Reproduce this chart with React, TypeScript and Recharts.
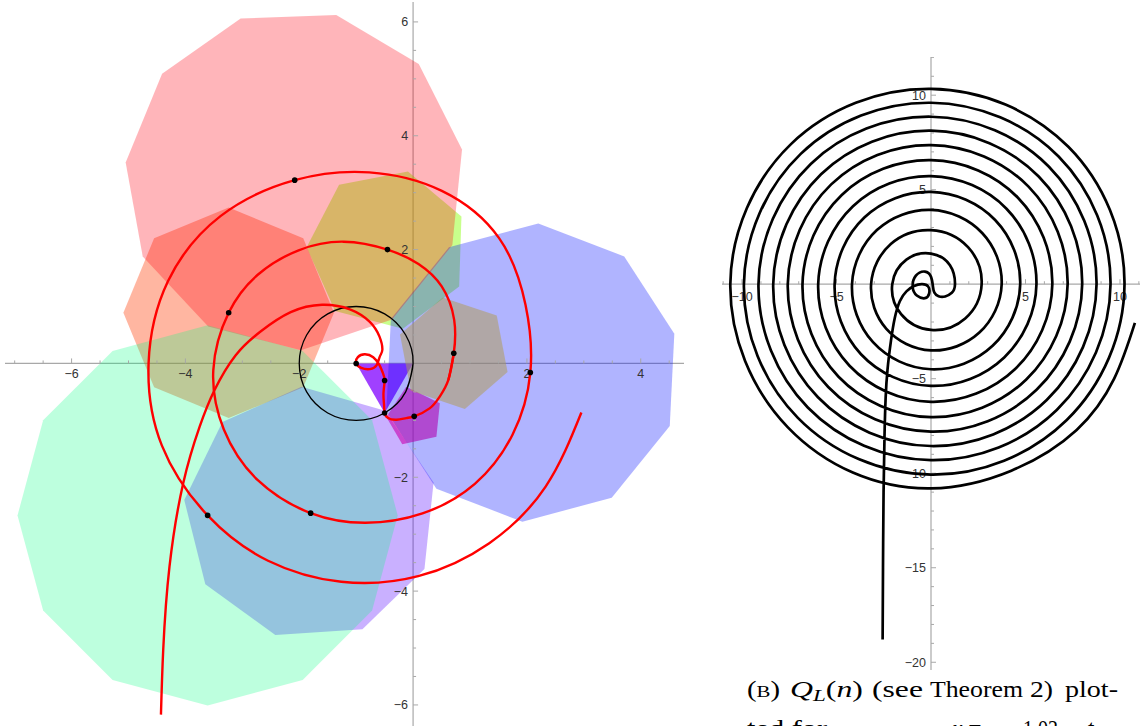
import React from 'react';
import { ScatterChart, Scatter, XAxis, YAxis, ReferenceLine } from 'recharts';

type Pt = { x: number; y: number; label?: string };
const toPts = (a: number[][]): Pt[] => a.map(([x, y]) => ({ x, y }));

// ---------- left panel: polygons around the marked points (vertices)
const triangle = [[-1, 0], [0, 0], [-0.5, -0.87]];
const pentagon = [[-0.12, -0.41], [0.47, -0.7], [0.41, -1.29], [-0.19, -1.42], [-0.47, -0.94]];
const hexagon = [[0.52, 1.16], [1.47, 0.84], [1.66, -0.15], [0.91, -0.8], [-0.04, -0.48], [-0.23, 0.51]];
const heptagon = [[0.85, 2.58], [-0.09, 3.37], [-1.3, 3.14], [-1.87, 2.04], [-1.37, 0.92], [-0.18, 0.61], [0.81, 1.35]];
const octagon = [[-1.39, 0.89], [-1.93, 2.2], [-3.24, 2.74], [-4.55, 2.2], [-5.09, 0.89], [-4.55, -0.42], [-3.24, -0.96], [-1.93, -0.42]];
const nonagon = [[-4.02, -2.4], [-3.35, -1.03], [-1.96, -0.41], [-0.49, -0.83], [0.36, -2.09], [0.2, -3.61], [-0.89, -4.67], [-2.42, -4.77], [-3.65, -3.88]];
const decagon = [[2.2, 2.46], [3.71, 1.88], [4.59, 0.52], [4.51, -1.1], [3.49, -2.36], [1.92, -2.78], [0.41, -2.2], [-0.47, -0.84], [-0.39, 0.78], [0.63, 2.04]];
const hendecagon = [[-1.35, 6.12], [-3.03, 6.06], [-4.41, 5.09], [-5.05, 3.53], [-4.75, 1.88], [-3.6, 0.65], [-1.97, 0.23], [-0.37, 0.77], [0.69, 2.08], [0.86, 3.76], [0.1, 5.26]];
const dodecagon = [[-0.27, -2.67], [-0.72, -1.0], [-1.94, 0.22], [-3.61, 0.67], [-5.28, 0.22], [-6.5, -1.0], [-6.95, -2.67], [-6.5, -4.34], [-5.28, -5.56], [-3.61, -6.01], [-1.94, -5.56], [-0.72, -4.34]];

const polygons = [triangle, pentagon, hexagon, heptagon, octagon, nonagon, decagon, hendecagon, dodecagon];
const polyColors = ['#a040ff', '#ff008e', '#ffdc00', '#85ff00', '#ff3800', '#5000ff', '#000dff', '#ff0011', '#00ff80'];
const polyOpacity = [1, 0.6, 0.5, 0.45, 0.37, 0.31, 0.31, 0.29, 0.26];

const unitCircle = [[-0.13, -0.5], [0, 0], [-0.13, 0.5], [-0.5, 0.87], [-1, 1], [-1.5, 0.87], [-1.87, 0.5], [-2, 0], [-1.87, -0.5], [-1.5, -0.87], [-1, -1], [-0.5, -0.87], [-0.13, -0.5], [0, 0]];

// tail and the small loop, up to the fifth marked point
const redCore = [
  [-4.43, -6.17], [-4.39, -5.03], [-4.28, -3.57], [-4.04, -2.11], [-3.75, -1.11], [-3.49, -0.47], [-3.12, 0.14],
  [-2.68, 0.56], [-2.15, 0.9], [-1.6, 1.03], [-1.11, 0.95], [-0.76, 0.73], [-0.59, 0.47], [-0.54, 0.24],
  [-0.585, 0.12], [-0.64, -0.03], [-0.76, -0.1], [-0.91, -0.08], [-1, 0], [-0.97, 0.11], [-0.85, 0.16],
  [-0.7, 0.11], [-0.59, -0.03], [-0.53, -0.17], [-0.5, -0.3], [-0.52, -0.52], [-0.51, -0.73], [-0.5, -0.87],
  [-0.44, -0.96], [-0.29, -0.99], [-0.12, -0.96], [0.02, -0.93], [0.29, -0.79], [0.47, -0.58], [0.62, -0.29],
  [0.715, 0.18],
];
// the two outer turns
const redTurns = [
  [0.722, 0.765], [0.503, 1.353], [0.095, 1.747], [-0.45, 2.0], [-1.22, 2.139], [-2.011, 1.988], [-2.724, 1.562],
  [-3.24, 0.89], [-3.51, -0.117], [-3.325, -1.161], [-2.728, -2.052], [-1.8, -2.63], [-0.835, -2.8], [0.165, -2.635],
  [1.085, -2.115], [1.749, -1.248], [2.06, -0.16], [1.976, 1.026], [1.511, 2.201], [0.505, 3.032], [-0.77, 3.357],
  [-2.08, 3.22], [-3.384, 2.588], [-4.307, 1.443], [-4.647, 0.008], [-4.413, -1.444], [-3.61, -2.67], [-2.548, -3.466],
  [-1.262, -3.836], [0.09, -3.738], [1.339, -3.158], [2.329, -2.163], [2.957, -0.862],
];

const markedPoints = [[-1, 0], [-0.5, -0.3], [-0.5, -0.87], [0.02, -0.93], [0.715, 0.18], [-0.45, 2.0], [-3.24, 0.89], [-1.8, -2.63], [2.06, -0.16], [-2.08, 3.22], [-3.61, -2.67]];

const leftXTicks = [-7, -6.5, -6, -5.5, -5, -4.5, -4, -3.5, -3, -2.5, -2, -1.5, -1, -0.5, 0.5, 1, 1.5, 2, 2.5, 3, 3.5, 4, 4.5];
const leftXLabels = [-6, -4, -2, 2, 4];
const leftYTicks = [-6, -5.5, -5, -4.5, -4, -3.5, -3, -2.5, -2, -1.5, -1, -0.5, 0.5, 1, 1.5, 2, 2.5, 3, 3.5, 4, 4.5, 5, 5.5, 6];
const leftYLabels = [-6, -4, -2, 2, 4, 6];

// ---------- right panel: Q_L(n)
const rightCore = [
  [-2.56, -18.8], [-2.54, -15.0], [-2.51, -11.0], [-2.46, -8.0], [-2.4, -6.0], [-2.3, -4.5], [-2.12, -3.0],
  [-1.92, -1.8], [-1.65, -0.9], [-1.3, -0.38], [-0.9, -0.1], [-0.49, 0.0], [-0.15, -0.12], [-0.1, -0.5],
  [-0.32, -0.74], [-0.75, -0.6], [-0.97, -0.15], [-0.8, 0.45], [-0.32, 0.67], [0.0, 0.4], [0.1, -0.1],
  [0.18, -0.45], [0.4, -0.64], [0.75, -0.65], [1.1, -0.45],
];
// radius of each turn read at 0°, 45°, …, 315°
const rightRings = [
  [1.27, 1.42, 1.62, 1.84, 2.05, 2.24, 2.42, 2.56],
  [2.68, 2.77, 2.86, 3.01, 3.17, 3.34, 3.5, 3.62],
  [3.74, 3.83, 3.93, 4.05, 4.18, 4.34, 4.5, 4.61],
  [4.72, 4.8, 4.88, 4.99, 5.1, 5.24, 5.38, 5.48],
  [5.58, 5.65, 5.72, 5.84, 5.97, 6.1, 6.22, 6.32],
  [6.42, 6.49, 6.56, 6.68, 6.8, 6.92, 7.03, 7.13],
  [7.23, 7.3, 7.36, 7.47, 7.58, 7.69, 7.8, 7.9],
  [8.0, 8.06, 8.12, 8.23, 8.35, 8.46, 8.56, 8.66],
  [8.76, 8.81, 8.86, 9.0, 9.13, 9.22, 9.31, 9.41],
  [9.5, 9.55, 9.6, 9.75, 9.9, 9.98, 10.07, 10.16],
  [10.24, 10.28, 10.33, 10.48, 10.62, 10.71, 10.8, 10.9],
];
const rightEnd = [[10.79, -2.05]];

const rightXTicks = [-11, -10, -9, -8, -7, -6, -5, -4, -3, -2, -1, 1, 2, 3, 4, 5, 6, 7, 8, 9, 10, 11];
const rightXLabels = [-10, -5, 5, 10];
const rightYTicks = [-20, -19, -18, -17, -16, -15, -14, -13, -12, -11, -10, -9, -8, -7, -6, -5, -4, -3, -2, -1, 1, 2, 3, 4, 5, 6, 7, 8, 9, 10, 11, 12];
const rightYLabels = [-20, -15, -10, -5, 5, 10];

const fmt = (v: number) => (v < 0 ? '\u2212' + -v : String(v));
const tickData = (vals: number[], labels: number[], horizontal: boolean): Pt[] =>
  vals.map((v) => ({ x: horizontal ? v : 0, y: horizontal ? 0 : v, label: labels.includes(v) ? fmt(v) : undefined }));

const ringPts: Pt[] = [
  ...toPts(rightCore),
  ...rightRings.flatMap((turn) => turn.map((r, k) => ({ x: r * Math.cos((k * Math.PI) / 4), y: r * Math.sin((k * Math.PI) / 4) }))),
  ...toPts(rightEnd),
];

const Empty = () => <g />;
const AXIS = '#a8a8a8';
const LABEL_FONT = { fontFamily: '"Liberation Sans", Arial, sans-serif', fontSize: 12.5, fill: '#333' };

const xTick = (dy: number) => (p: any) => {
  const lab = p.payload.label;
  return (
    <g>
      <line x1={p.cx} x2={p.cx} y1={p.cy} y2={p.cy - (lab ? 5 : 3)} stroke={AXIS} />
      {lab && (
        <text x={p.cx} y={p.cy + dy} textAnchor="middle" {...LABEL_FONT}>
          {lab}
        </text>
      )}
    </g>
  );
};
const yTick = (p: any) => {
  const lab = p.payload.label;
  return (
    <g>
      <line x1={p.cx} x2={p.cx + (lab ? 5 : 3)} y1={p.cy} y2={p.cy} stroke={AXIS} />
      {lab && (
        <text x={p.cx - 5} y={p.cy + 4.5} textAnchor="end" {...LABEL_FONT}>
          {lab}
        </text>
      )}
    </g>
  );
};
const dot = (p: any) => <circle cx={p.cx} cy={p.cy} r={2.8} fill="#000" />;
const redLine = { stroke: '#ff0000', strokeWidth: 2.4 };

function LeftPanel() {
  return (
    <ScatterChart width={700} height={726} margin={{ top: 2, right: 16, bottom: 0, left: 5 }}>
      <XAxis type="number" dataKey="x" domain={[-7.17, 4.76]} hide />
      <YAxis type="number" dataKey="y" domain={[-6.37, 6.35]} hide />
      <ReferenceLine x={0} stroke={AXIS} strokeWidth={1.2} />
      <ReferenceLine y={0} stroke={AXIS} strokeWidth={1.2} />
      {polygons.map((poly, i) => (
        <Scatter
          key={i}
          data={toPts(poly)}
          shape={Empty}
          line={{ fill: polyColors[i], fillOpacity: polyOpacity[i], stroke: 'none' }}
          lineJointType="linearClosed"
          isAnimationActive={false}
        />
      ))}
      <Scatter data={tickData(leftXTicks, leftXLabels, true)} shape={xTick(15)} isAnimationActive={false} />
      <Scatter data={tickData(leftYTicks, leftYLabels, false)} shape={yTick} isAnimationActive={false} />
      <Scatter data={toPts(unitCircle)} shape={Empty} line={{ stroke: '#000', strokeWidth: 1.3 }} lineJointType="natural" isAnimationActive={false} />
      <Scatter data={toPts(redCore)} shape={Empty} line={redLine} lineJointType="natural" isAnimationActive={false} />
      <Scatter data={toPts([[0.62, -0.29], [0.715, 0.18], ...redTurns])} shape={Empty} line={redLine} lineJointType="natural" isAnimationActive={false} />
      <Scatter data={toPts(markedPoints)} shape={dot} isAnimationActive={false} />
    </ScatterChart>
  );
}

function RightPanel() {
  return (
    <ScatterChart width={418} height={613} margin={{ top: 0, right: 0, bottom: 0, left: 0 }}>
      <XAxis type="number" dataKey="x" domain={[-11.06, 11.06]} hide />
      <YAxis type="number" dataKey="y" domain={[-20.41, 12.02]} hide />
      <ReferenceLine x={0} stroke={AXIS} strokeWidth={1.2} />
      <ReferenceLine y={0} stroke={AXIS} strokeWidth={1.2} />
      <Scatter data={tickData(rightXTicks, rightXLabels, true)} shape={xTick(17)} isAnimationActive={false} />
      <Scatter data={tickData(rightYTicks, rightYLabels, false)} shape={yTick} isAnimationActive={false} />
      <Scatter data={ringPts} shape={Empty} line={{ stroke: '#000', strokeWidth: 2.7 }} lineJointType="natural" isAnimationActive={false} />
    </ScatterChart>
  );
}

export default function App() {
  const serif = '"Liberation Serif", "DejaVu Serif", serif';
  const fit = { lengthAdjust: 'spacingAndGlyphs' as const };
  return (
    <div style={{ position: 'absolute', left: 0, top: 0, width: 1140, height: 726, overflow: 'hidden', background: '#fff' }}>
      <div style={{ position: 'absolute', left: 0, top: 0 }}>
        <LeftPanel />
      </div>
      <div style={{ position: 'absolute', left: 722, top: 57 }}>
        <RightPanel />
      </div>
      <svg style={{ position: 'absolute', left: 690, top: 640 }} width={450} height={86}>
        <g fontFamily={serif} fontSize={23.5} fill="#000">
          <text x={57} y={57} textLength={33} {...fit}>
            (<tspan fontSize={17}>B</tspan>)
          </text>
          <text x={100} y={57} textLength={73} {...fit}>
            <tspan fontStyle="italic">Q</tspan>
            <tspan fontStyle="italic" fontSize={17} dy={4}>L</tspan>
            <tspan dy={-4}>(</tspan>
            <tspan fontStyle="italic">n</tspan>)
          </text>
          <text x={182} y={57} textLength={51} {...fit}>(see</text>
          <text x={240} y={57} textLength={93} {...fit}>Theorem</text>
          <text x={340} y={57} textLength={23} {...fit}>2)</text>
          <text x={375} y={57} textLength={53} {...fit}>plot-</text>
          <text x={57} y={96} textLength={80} {...fit}>ted for</text>
          <text x={262} y={96}>
            <tspan fontStyle="italic">x</tspan> =
          </text>
          <text x={333} y={96} textLength={40} {...fit}>1.02,</text>
          <text x={397} y={96} fontStyle="italic">t</text>
        </g>
      </svg>
    </div>
  );
}
